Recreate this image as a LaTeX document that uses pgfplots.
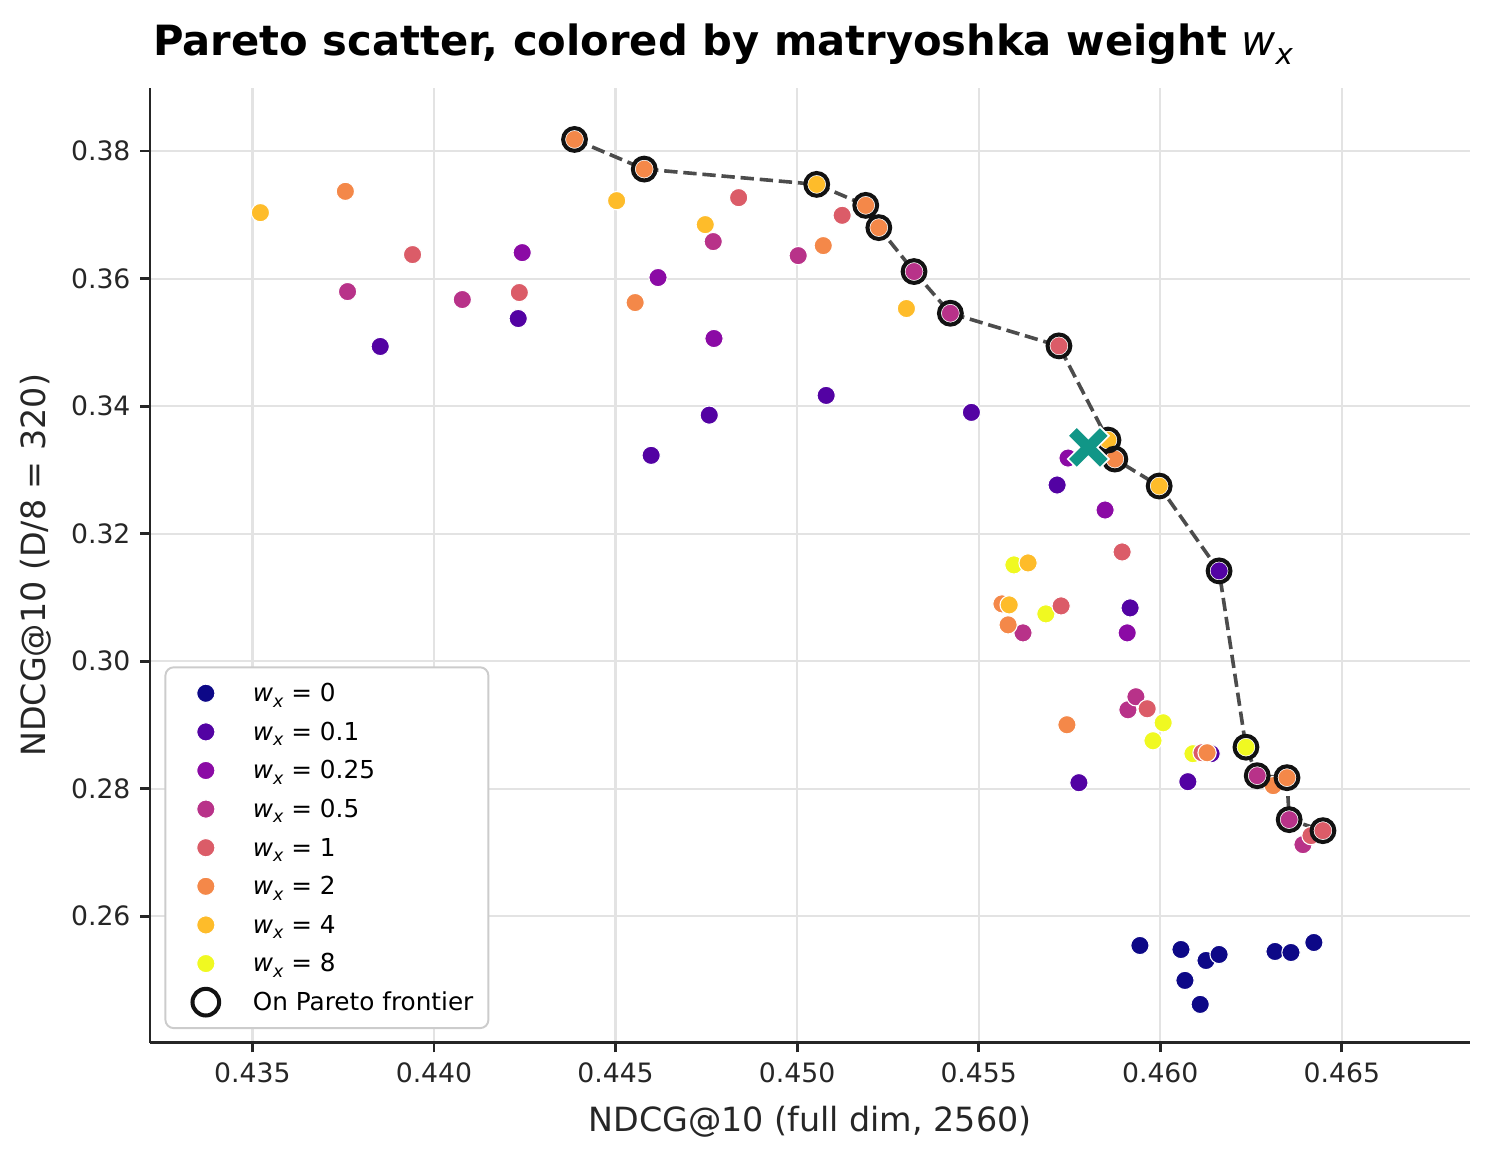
\documentclass[border=0pt]{standalone}
\usepackage{fontspec}
\setmainfont{DejaVu Sans}
\usepackage{pgfplots}
\pgfplotsset{compat=1.18}
\usetikzlibrary{calc}

% plasma palette, one colour per weight
\definecolor{c0}{HTML}{0D0887}
\definecolor{c1}{HTML}{5302A3}
\definecolor{c2}{HTML}{8B0AA5}
\definecolor{c3}{HTML}{B83289}
\definecolor{c4}{HTML}{DB5C68}
\definecolor{c5}{HTML}{F48849}
\definecolor{c6}{HTML}{FEBC2A}
\definecolor{c7}{HTML}{F0F921}
\definecolor{teal}{HTML}{119687}
\definecolor{ink}{HTML}{262626}

% w with subscript x, in the style of mathtext
\newcommand\wx{\textit{w}\raisebox{-0.22em}{\scalebox{0.7}{\textit{x}}}}

% filled X marker
\pgfdeclareplotmark{bigX}{%
  \pgfpathmoveto{\pgfqpoint{-4.172pt}{7.425pt}}%
  \pgfpathlineto{\pgfqpoint{-7.425pt}{4.172pt}}%
  \pgfpathlineto{\pgfqpoint{-3.253pt}{0pt}}%
  \pgfpathlineto{\pgfqpoint{-7.425pt}{-4.172pt}}%
  \pgfpathlineto{\pgfqpoint{-4.172pt}{-7.425pt}}%
  \pgfpathlineto{\pgfqpoint{0pt}{-3.253pt}}%
  \pgfpathlineto{\pgfqpoint{4.172pt}{-7.425pt}}%
  \pgfpathlineto{\pgfqpoint{7.425pt}{-4.172pt}}%
  \pgfpathlineto{\pgfqpoint{3.253pt}{0pt}}%
  \pgfpathlineto{\pgfqpoint{7.425pt}{4.172pt}}%
  \pgfpathlineto{\pgfqpoint{4.172pt}{7.425pt}}%
  \pgfpathlineto{\pgfqpoint{0pt}{3.253pt}}%
  \pgfpathclose
  \pgfusepathqfillstroke
}

\pgfplotsset{
  dot/.style={only marks, mark=*, mark size=3.3pt,
    mark options={draw=white, line width=0.4pt, fill=#1}, forget plot},
  legdot/.style={mark=*, mark size=3.3pt,
    mark options={draw=white, line width=0.4pt, fill=#1}},
}

\begin{document}
\begin{tikzpicture}
\begin{axis}[
  name=ax,
  scale only axis,
  width=475.2pt, height=343.7pt,
  xmin=0.43218, xmax=0.46853,
  ymin=0.24016, ymax=0.38990,
  xtick={0.435,0.440,0.445,0.450,0.455,0.460,0.465},
  ytick={0.26,0.28,0.30,0.32,0.34,0.36,0.38},
  /pgf/number format/assume math mode=true,
  xticklabel style={/pgf/number format/.cd, fixed, fixed zerofill, precision=3},
  yticklabel style={/pgf/number format/.cd, fixed, fixed zerofill, precision=2},
  ticklabel style={font=\fontsize{9.6}{11}\selectfont, text=ink},
  axis x line*=bottom, axis y line*=left,
  axis line style={-, line width=1pt, draw=ink},
  tick align=outside,
  major tick length=3.5pt,
  tick style={line width=1pt, draw=ink},
  grid=major,
  grid style={line width=0.8pt, draw=black!11},
  xlabel={NDCG@10 (full dim, 2560)},
  ylabel={NDCG@10 (D/8 = 320)},
  label style={font=\fontsize{12}{14}\selectfont, text=ink, inner sep=0pt},
  xlabel style={at={(axis description cs:0.5,-0.0935)}, anchor=base},
  ylabel style={at={(axis description cs:-0.0795,0.5)}, anchor=base},
  title={Pareto scatter, colored by matryoshka weight {\mdseries\wx}},
  title style={at={(axis description cs:0,1)}, anchor=base west, inner sep=0pt,
    xshift=1pt, yshift=5.8pt, font=\fontsize{15}{18}\selectfont\bfseries},
  legend cell align=left,
  legend image code/.code={%
    \path (0pt,-6.6pt) (17.6pt,6.6pt);
    \draw[#1] plot coordinates {(8.8pt,0pt)};
  },
  legend style={
    at={(axis description cs:0,0)}, anchor=south west,
    xshift=5.2pt, yshift=4.9pt,
    draw=black!20, line width=0.7pt, rounded corners=3pt, fill=white,
    inner xsep=5.4pt, inner ysep=2.4pt, column sep=7.8pt, row sep=0pt,
    font=\fontsize{8.9}{10.5}\selectfont,
    nodes={inner sep=0pt, text height=9.6pt, text depth=3.6pt},
  },
]

% w_x = 8
\addplot[dot=c7] coordinates {
  (0.45597,0.31510) (0.45685,0.30742) (0.46008,0.29034) (0.45980,0.28752)
  (0.46090,0.28549) (0.46236,0.28651)
};
% w_x = 0
\addplot[dot=c0] coordinates {
  (0.45944,0.25541) (0.46057,0.25478) (0.46068,0.24993) (0.46110,0.24617)
  (0.46126,0.25306) (0.46162,0.25400) (0.46316,0.25447) (0.46360,0.25431)
  (0.46423,0.25588)
};
% w_x = 0.1
\addplot[dot=c1] coordinates {
  (0.43852,0.34936) (0.44232,0.35374) (0.44598,0.33228) (0.44758,0.33859)
  (0.45080,0.34168) (0.45480,0.33902) (0.45716,0.32763) (0.45917,0.30836)
  (0.45776,0.28094) (0.46076,0.28110) (0.46140,0.28549) (0.46162,0.31416)
};
% w_x = 0.25
\addplot[dot=c2] coordinates {
  (0.44243,0.36408) (0.44617,0.36017) (0.44771,0.35061) (0.45746,0.33186)
  (0.45848,0.32371) (0.45909,0.30444)
};
% w_x = 0.5
\addplot[dot=c3] coordinates {
  (0.43762,0.35797) (0.44078,0.35672) (0.44769,0.36581) (0.45003,0.36361)
  (0.45622,0.30444) (0.45911,0.29238) (0.45933,0.29442) (0.46393,0.27123)
  (0.45322,0.36111) (0.45422,0.35457) (0.46267,0.28204) (0.46355,0.27515)
};
% w_x = 1
\addplot[dot=c4] coordinates {
  (0.43941,0.36377) (0.44235,0.35782) (0.44839,0.37270) (0.45124,0.36993)
  (0.45895,0.31713) (0.45727,0.30867) (0.45964,0.29254) (0.46115,0.28564)
  (0.46415,0.27264) (0.45721,0.34945) (0.46448,0.27342)
};
% w_x = 2
\addplot[dot=c5] coordinates {
  (0.43756,0.37369) (0.44554,0.35625) (0.45072,0.36518) (0.45564,0.30899)
  (0.45581,0.30570) (0.45743,0.29003) (0.46129,0.28564) (0.46311,0.28048)
  (0.44387,0.38183) (0.44579,0.37718) (0.45189,0.37149) (0.45225,0.36800)
  (0.45875,0.33170) (0.46349,0.28173)
};
% w_x = 4
\addplot[dot=c6] coordinates {
  (0.43522,0.37035) (0.44503,0.37223) (0.44747,0.36847) (0.45301,0.35531)
  (0.45636,0.31541) (0.45584,0.30883) (0.45054,0.37478) (0.45856,0.33468)
  (0.45997,0.32747)
};

% Pareto frontier: rings and connecting dashed line
\addplot[only marks, mark=o, mark size=4.1pt,
  mark options={draw=black!93, line width=1.45pt}, forget plot] coordinates {
  (0.44387,0.38183) (0.44579,0.37718) (0.45054,0.37478) (0.45189,0.37149)
  (0.45225,0.36800) (0.45322,0.36111) (0.45422,0.35457) (0.45721,0.34945)
  (0.45856,0.33468) (0.45875,0.33170) (0.45997,0.32747) (0.46162,0.31416)
  (0.46236,0.28651) (0.46267,0.28204) (0.46349,0.28173) (0.46355,0.27515)
  (0.46448,0.27342)
};
\addplot[no marks, draw=black!70, line width=1.3pt,
  dash pattern=on 4.8pt off 2.1pt, forget plot] coordinates {
  (0.44387,0.38183) (0.44579,0.37718) (0.45054,0.37478) (0.45189,0.37149)
  (0.45225,0.36800) (0.45322,0.36111) (0.45422,0.35457) (0.45721,0.34945)
  (0.45856,0.33468) (0.45875,0.33170) (0.45997,0.32747) (0.46162,0.31416)
  (0.46236,0.28651) (0.46267,0.28204) (0.46349,0.28173) (0.46355,0.27515)
  (0.46448,0.27342)
};

% baseline configuration
\addplot[only marks, mark=bigX,
  mark options={fill=teal, draw=white, line width=0.6pt}, forget plot]
  coordinates {(0.45802,0.33353)};

% legend entries
\addlegendimage{legdot=c0}\addlegendentry{\wx{} = 0}
\addlegendimage{legdot=c1}\addlegendentry{\wx{} = 0.1}
\addlegendimage{legdot=c2}\addlegendentry{\wx{} = 0.25}
\addlegendimage{legdot=c3}\addlegendentry{\wx{} = 0.5}
\addlegendimage{legdot=c4}\addlegendentry{\wx{} = 1}
\addlegendimage{legdot=c5}\addlegendentry{\wx{} = 2}
\addlegendimage{legdot=c6}\addlegendentry{\wx{} = 4}
\addlegendimage{legdot=c7}\addlegendentry{\wx{} = 8}
\addlegendimage{mark=o, mark size=4.8pt, mark options={draw=black!93, line width=1.45pt}}
\addlegendentry{On Pareto frontier}
\end{axis}
\pgfresetboundingbox
\path ($(ax.south west)+(-54pt,-42.2pt)$) rectangle ($(ax.north east)+(6.48pt,31.68pt)$);
\end{tikzpicture}
\end{document}
